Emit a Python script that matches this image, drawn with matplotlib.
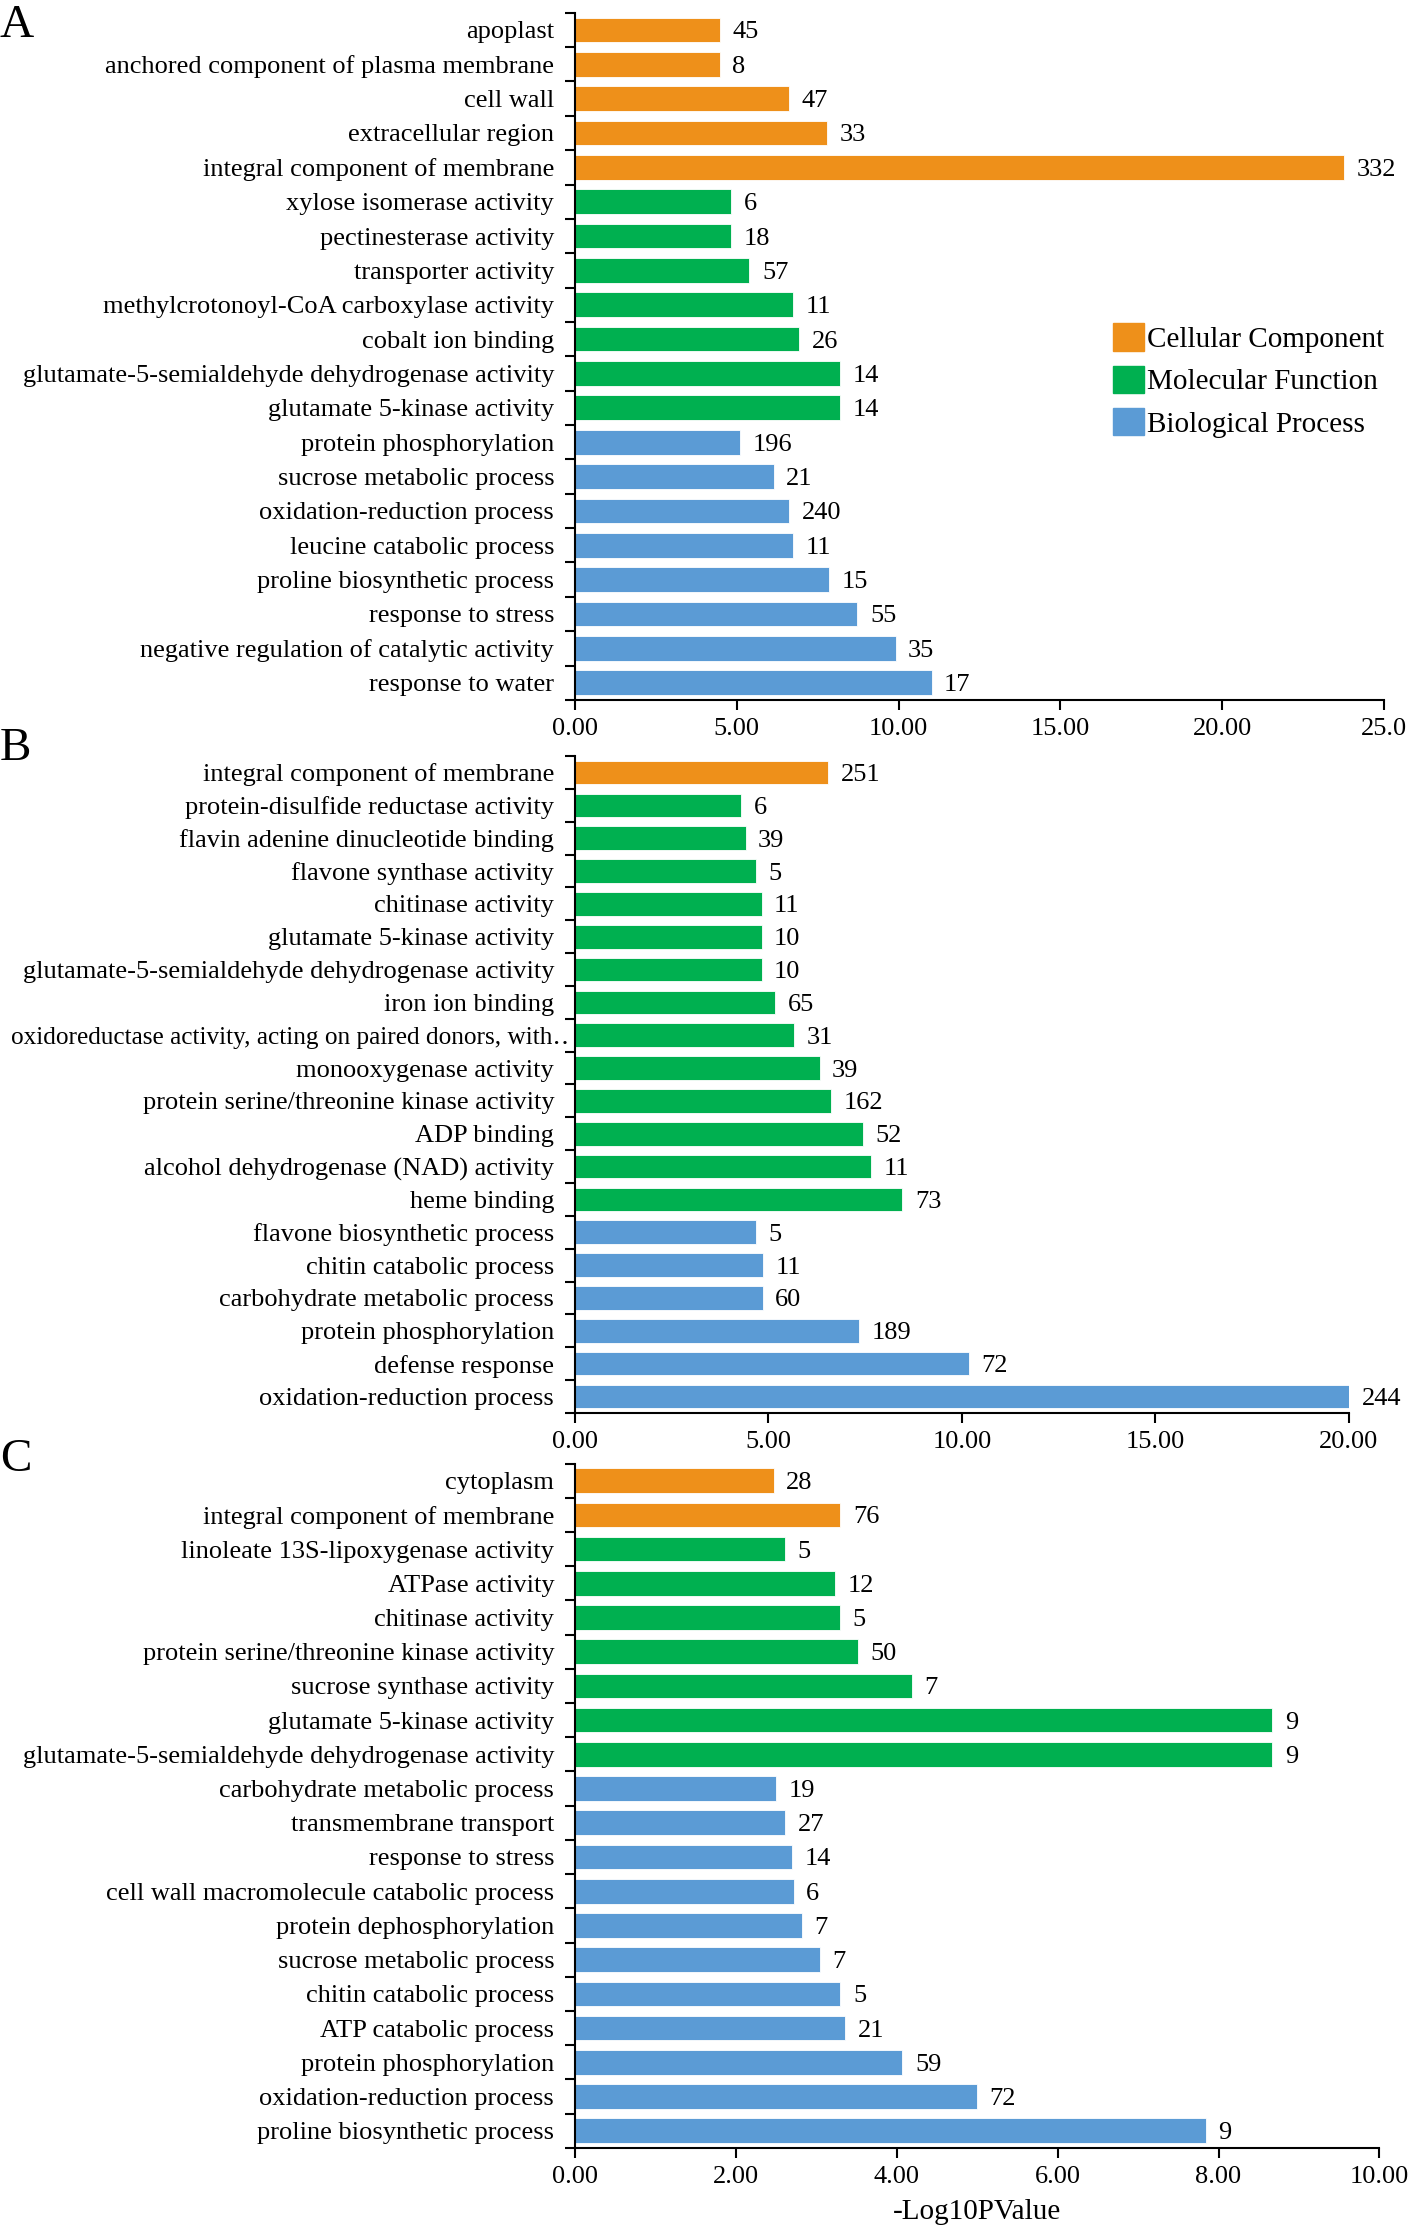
import matplotlib.pyplot as plt
from matplotlib.patches import Patch
from matplotlib.transforms import ScaledTranslation
import numpy as np

plt.rcParams['font.family'] = ['Liberation Serif', 'DejaVu Serif']
plt.rcParams['font.size'] = 19

# ---- panel A ----
terms_a = ['apoplast', 'anchored component of plasma membrane', 'cell wall',
           'extracellular region', 'integral component of membrane',
           'xylose isomerase activity', 'pectinesterase activity', 'transporter activity',
           'methylcrotonoyl-CoA carboxylase activity', 'cobalt ion binding',
           'glutamate-5-semialdehyde dehydrogenase activity', 'glutamate 5-kinase activity',
           'protein phosphorylation', 'sucrose metabolic process', 'oxidation-reduction process',
           'leucine catabolic process', 'proline biosynthetic process', 'response to stress',
           'negative regulation of catalytic activity', 'response to water']
groups_a = ['CC'] * 5 + ['MF'] * 7 + ['BP'] * 8
pvals_a = [4.47, 4.47, 6.62, 7.80, 23.78, 4.82, 4.82, 5.39, 6.75, 6.93, 8.20, 8.20,
           5.09, 6.14, 6.62, 6.75, 7.85, 8.73, 9.91, 11.02]
counts_a = [45, 8, 47, 33, 332, 6, 18, 57, 11, 26, 14, 14, 196, 21, 240, 11, 15, 55, 35, 17]
xticks_a = [0, 5, 10, 15, 20, 25]
xticklabels_a = ['0.00', '5.00', '10.00', '15.00', '20.00', '25.0']

# ---- panel B ----
terms_b = ['integral component of membrane', 'protein-disulfide reductase activity',
           'flavin adenine dinucleotide binding', 'flavone synthase activity', 'chitinase activity',
           'glutamate 5-kinase activity', 'glutamate-5-semialdehyde dehydrogenase activity',
           'iron ion binding', 'oxidoreductase activity, acting on paired donors, with\u2025',
           'monooxygenase activity', 'protein serine/threonine kinase activity', 'ADP binding',
           'alcohol dehydrogenase (NAD) activity', 'heme binding', 'flavone biosynthetic process',
           'chitin catabolic process', 'carbohydrate metabolic process', 'protein phosphorylation',
           'defense response', 'oxidation-reduction process']
groups_b = ['CC'] * 1 + ['MF'] * 13 + ['BP'] * 6
pvals_b = [6.54, 4.30, 4.41, 4.67, 4.82, 4.82, 4.82, 5.18, 5.66, 6.32, 6.62, 7.43, 7.65, 8.46,
           4.67, 4.85, 4.85, 7.35, 10.18, 20.0]
counts_b = [251, 6, 39, 5, 11, 10, 10, 65, 31, 39, 162, 52, 11, 73, 5, 11, 60, 189, 72, 244]
xticks_b = [0, 5, 10, 15, 20]
xticklabels_b = ['0.00', '5.00', '10.00', '15.00', '20.00']

# ---- panel C ----
terms_c = ['cytoplasm', 'integral component of membrane', 'linoleate 13S-lipoxygenase activity',
           'ATPase activity', 'chitinase activity', 'protein serine/threonine kinase activity',
           'sucrose synthase activity', 'glutamate 5-kinase activity',
           'glutamate-5-semialdehyde dehydrogenase activity', 'carbohydrate metabolic process',
           'transmembrane transport', 'response to stress', 'cell wall macromolecule catabolic process',
           'protein dephosphorylation', 'sucrose metabolic process', 'chitin catabolic process',
           'ATP catabolic process', 'protein phosphorylation', 'oxidation-reduction process',
           'proline biosynthetic process']
groups_c = ['CC'] * 2 + ['MF'] * 7 + ['BP'] * 11
pvals_c = [2.47, 3.30, 2.61, 3.23, 3.29, 3.52, 4.19, 8.67, 8.67, 2.50, 2.61, 2.70, 2.72, 2.82,
           3.04, 3.30, 3.36, 4.07, 5.00, 7.84]
counts_c = [28, 76, 5, 12, 5, 50, 7, 9, 9, 19, 27, 14, 6, 7, 7, 5, 21, 59, 72, 9]
xticks_c = [0, 2, 4, 6, 8, 10]
xticklabels_c = ['0.00', '2.00', '4.00', '6.00', '8.00', '10.00']

colors = {'CC': '#EE901A', 'MF': '#00B050', 'BP': '#5B9BD5'}
group_names = {'CC': 'Cellular Component', 'MF': 'Molecular Function', 'BP': 'Biological Process'}


def draw_panel(ax, terms, groups, pvals, counts, xticks, xticklabels):
    y = np.arange(len(terms))
    cols = [colors[g] for g in groups]
    ax.barh(y, pvals, height=0.72, color=cols, edgecolor='white', linewidth=0.6)
    ax.set_ylim(len(terms) - 0.5, -0.5)
    ax.set_yticks(y)
    ax.set_yticklabels(terms)
    ax.set_yticks(np.arange(len(terms) + 1) - 0.5, minor=True)
    ax.tick_params(axis='y', which='major', length=0, pad=15)
    ax.tick_params(axis='y', which='minor', length=7, width=1.5)
    ax.set_xlim(xticks[0], xticks[-1])
    ax.set_xticks(xticks)
    ax.set_xticklabels(xticklabels)
    ax.tick_params(axis='x', length=7, width=1.5, pad=6)
    ax.spines['top'].set_visible(False)
    ax.spines['right'].set_visible(False)
    ax.spines['left'].set_linewidth(1.5)
    ax.spines['bottom'].set_linewidth(1.5)
    for yi, v, c in zip(y, pvals, counts):
        ax.annotate(str(c), (v, yi), xytext=(9, 0), textcoords='offset points',
                    va='center_baseline', ha='left')


fig = plt.figure(figsize=(14.18, 22.31), dpi=100)
ax_a = fig.add_axes([0.4055, 0.6863, 0.5705, 0.3080])
ax_b = fig.add_axes([0.4055, 0.3667, 0.5458, 0.2944])
ax_c = fig.add_axes([0.4055, 0.0373, 0.5673, 0.3067])

draw_panel(ax_a, terms_a, groups_a, pvals_a, counts_a, xticks_a, xticklabels_a)
draw_panel(ax_b, terms_b, groups_b, pvals_b, counts_b, xticks_b, xticklabels_b)
draw_panel(ax_c, terms_c, groups_c, pvals_c, counts_c, xticks_c, xticklabels_c)

# the long truncated label in B runs up against the axis
long_lab = ax_b.get_yticklabels()[8]
long_lab.set_fontsize(18.2)
long_lab.set_transform(long_lab.get_transform() + ScaledTranslation(11 / 72, 0, fig.dpi_scale_trans))

ax_c.set_xlabel('-Log10PValue', fontsize=21, labelpad=8)

handles = [Patch(facecolor=colors[g], edgecolor=colors[g]) for g in ['CC', 'MF', 'BP']]
labels = [group_names[g] for g in ['CC', 'MF', 'BP']]
ax_a.legend(handles, labels, loc='upper left', bbox_to_anchor=(0.785, 0.855),
            bbox_transform=fig.transFigure, frameon=False, fontsize=21,
            handlelength=1.05, handleheight=1.05, handletextpad=0.12,
            labelspacing=0.44, borderpad=0, borderaxespad=0)

for letter, ytop in [('A', 0.998), ('B', 0.674), ('C', 0.355)]:
    fig.text(0.0, ytop, letter, fontsize=34, va='top', ha='left')

fig.savefig('out.png', dpi=100)
